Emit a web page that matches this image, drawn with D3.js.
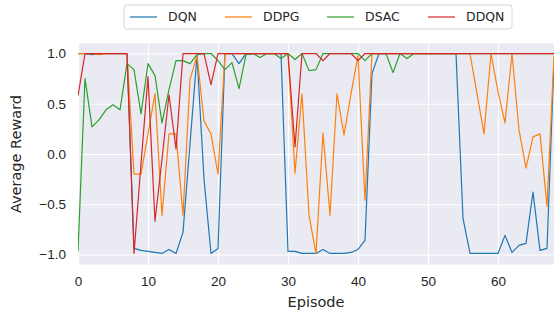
<!DOCTYPE html>
<html>
<head>
<meta charset="utf-8">
<script src="https://cdn.jsdelivr.net/npm/d3@7"></script>
<style>
  body { margin: 0; background: #fff; }
  svg { display: block; font-family: "DejaVu Sans", sans-serif; }
  .tick text { fill: #262626; font-size: 13.5px; }
</style>
</head>
<body>
<svg id="chart" width="555" height="314"></svg>
<script>
// series, one value per episode 0..68
const seriesNames = ["DQN", "DDPG", "DSAC", "DDQN"];
const seriesColors = ["#1f77b4", "#ff7f0e", "#2ca02c", "#d62728"];

const dqn = [1.0, 1.0, 0.99, 1.0, 1.0, 1.0, 1.0, 1.0, -0.94, -0.96,
  -0.97, -0.98, -0.99, -0.95, -0.99, -0.78, 0.1, 0.98, -0.25, -0.99,
  -0.94, 1.0, 1.0, 0.9, 1.0, 1.0, 1.0, 1.0, 1.0, 1.0,
  -0.97, -0.97, -0.99, -0.99, -0.99, -0.95, -0.99, -0.99, -0.99, -0.98,
  -0.95, -0.86, 0.8, 1.0, 1.0, 1.0, 1.0, 1.0, 1.0, 1.0,
  1.0, 1.0, 1.0, 1.0, 1.0, -0.64, -0.99, -0.99, -0.99, -0.99,
  -0.99, -0.81, -0.98, -0.91, -0.89, -0.38, -0.96, -0.94, 0.93];

const ddpg = [1.0, 1.0, 1.0, 0.99, 1.0, 1.0, 1.0, 1.0, -0.2, -0.2,
  0.2, 0.6, -0.61, 0.2, 0.2, -0.61, 0.74, 0.98, 0.33, 0.2,
  -0.2, 1.0, 1.0, 1.0, 1.0, 1.0, 1.0, 1.0, 1.0, 1.0,
  1.0, -0.19, 0.6, -0.61, -0.99, 0.21, -0.61, 0.6, 0.19, 0.6,
  0.98, -0.46, 1.0, 1.0, 1.0, 1.0, 1.0, 1.0, 1.0, 1.0,
  1.0, 1.0, 1.0, 1.0, 1.0, 1.0, 1.0, 0.6, 0.2, 1.0,
  0.62, 0.31, 1.0, 0.24, -0.14, 0.17, 0.2, -0.52, 0.98];

const dsac = [-0.97, 0.75, 0.27, 0.34, 0.44, 0.49, 0.44, 0.9, 0.84, 0.4,
  0.9, 0.78, 0.31, 0.64, 0.93, 0.93, 0.9, 0.99, 1.0, 1.0,
  0.93, 0.84, 0.91, 0.65, 0.99, 1.0, 0.96, 1.0, 1.0, 0.95,
  1.0, 0.94, 1.0, 0.83, 0.84, 1.0, 1.0, 1.0, 1.0, 1.0,
  1.0, 0.93, 1.0, 1.0, 1.0, 0.81, 1.0, 0.95, 1.0, 1.0,
  1.0, 1.0, 1.0, 1.0, 1.0, 1.0, 1.0, 1.0, 1.0, 1.0,
  1.0, 1.0, 1.0, 1.0, 1.0, 1.0, 1.0, 1.0, 1.0];

const ddqn = [0.58, 1.0, 1.0, 1.0, 1.0, 1.0, 1.0, 1.0, -0.99, -0.1,
  0.77, -0.67, -0.05, 0.59, 0.05, 1.0, 1.0, 1.0, 1.0, 0.69,
  1.0, 1.0, 1.0, 1.0, 1.0, 1.0, 1.0, 1.0, 1.0, 1.0,
  1.0, 0.07, 1.0, 1.0, 1.0, 0.93, 1.0, 1.0, 1.0, 1.0,
  0.93, 1.0, 1.0, 1.0, 1.0, 1.0, 1.0, 1.0, 1.0, 1.0,
  1.0, 1.0, 1.0, 1.0, 1.0, 1.0, 1.0, 1.0, 1.0, 1.0,
  1.0, 1.0, 1.0, 1.0, 1.0, 1.0, 1.0, 1.0, 1.0];

const xTicks = [0, 10, 20, 30, 40, 50, 60];
const yTicks = [-1.0, -0.5, 0.0, 0.5, 1.0];

const allSeries = [dqn, ddpg, dsac, ddqn];

const svg = d3.select("#chart");
const margin = { left: 78, top: 43.5, right: 1, bottom: 49.5 };
const width = 555 - margin.left - margin.right;
const height = 314 - margin.top - margin.bottom;

const x = d3.scaleLinear().domain([0, 68]).range([0, width]);
const y = d3.scaleLinear().domain([-1.1, 1.1]).range([height, 0]);

const g = svg.append("g").attr("transform", `translate(${margin.left},${margin.top})`);

// seaborn darkgrid background
g.append("rect")
  .attr("width", width)
  .attr("height", height)
  .attr("fill", "#eaeaf2");

// grid lines
g.append("g")
  .attr("transform", `translate(0,${height})`)
  .call(d3.axisBottom(x).tickValues(xTicks).tickSize(-height).tickFormat(""))
  .call(a => a.select(".domain").remove())
  .call(a => a.selectAll("line").attr("stroke", "#fff").attr("stroke-width", 1.1));

g.append("g")
  .call(d3.axisLeft(y).tickValues(yTicks).tickSize(-width).tickFormat(""))
  .call(a => a.select(".domain").remove())
  .call(a => a.selectAll("line").attr("stroke", "#fff").attr("stroke-width", 1.1));

// tick labels
const fmt = d => d3.format(".1f")(d).replace("-", "\u2212");

g.append("g")
  .attr("transform", `translate(0,${height})`)
  .call(d3.axisBottom(x).tickValues(xTicks).tickSize(0).tickPadding(12).tickFormat(d3.format("d")))
  .call(a => a.select(".domain").remove());

g.append("g")
  .call(d3.axisLeft(y).tickValues(yTicks).tickSize(0).tickPadding(12).tickFormat(fmt))
  .call(a => a.select(".domain").remove());

// lines
const line = d3.line()
  .x((d, i) => x(i))
  .y(d => y(d));

svg.append("clipPath").attr("id", "plotclip")
  .append("rect").attr("width", width).attr("height", height);

g.append("g")
  .attr("clip-path", "url(#plotclip)")
  .selectAll("path")
  .data(allSeries)
  .join("path")
  .attr("d", line)
  .attr("fill", "none")
  .attr("stroke", (d, i) => seriesColors[i])
  .attr("stroke-width", 1.2)
  .attr("stroke-linejoin", "round");

// axis labels
svg.append("text")
  .attr("x", margin.left + width / 2)
  .attr("y", 307)
  .attr("text-anchor", "middle")
  .attr("fill", "#262626")
  .style("font-size", "14.5px")
  .text("Episode");

svg.append("text")
  .attr("transform", `translate(21,${margin.top + height / 2}) rotate(-90)`)
  .attr("text-anchor", "middle")
  .attr("fill", "#262626")
  .style("font-size", "14.5px")
  .text("Average Reward");

// legend across the top
const legend = svg.append("g").attr("transform", "translate(124,5)");
legend.append("rect")
  .attr("width", 388)
  .attr("height", 24)
  .attr("rx", 3)
  .attr("fill", "#ffffff")
  .attr("stroke", "#d6d6d6")
  .attr("stroke-width", 1);

const legendX = [6, 101, 203, 304];
const items = legend.selectAll("g.item")
  .data(seriesNames)
  .join("g")
  .attr("class", "item")
  .attr("transform", (d, i) => `translate(${legendX[i]},12)`);

items.append("line")
  .attr("x1", 0).attr("x2", 27)
  .attr("stroke", (d, i) => seriesColors[i])
  .attr("stroke-width", 1.2);

items.append("text")
  .attr("x", 38)
  .attr("dy", "0.35em")
  .attr("fill", "#262626")
  .style("font-size", "12.5px")
  .text(d => d);
</script>
</body>
</html>
